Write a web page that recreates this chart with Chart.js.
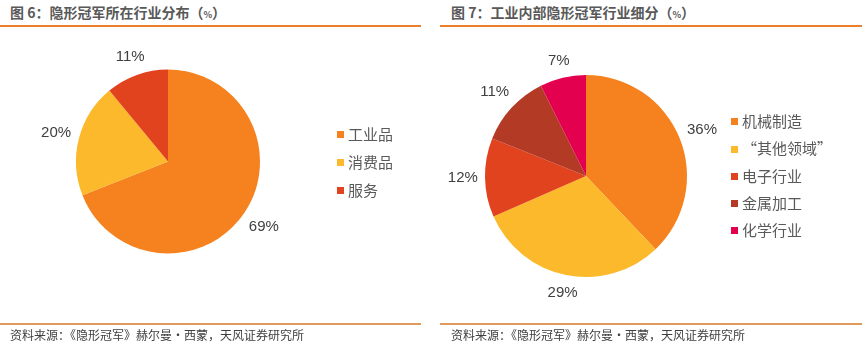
<!DOCTYPE html>
<html>
<head>
<meta charset="utf-8">
<script src="https://cdn.jsdelivr.net/npm/chart.js@4.4.1/dist/chart.umd.min.js"></script>
<style>
  html, body { margin: 0; padding: 0; background: #ffffff; }
  body { width: 865px; height: 344px; position: relative; overflow: hidden;
         font-family: "Noto Sans CJK SC", "Noto Sans", sans-serif; }
  .title { position: absolute; top: 2px; font-size: 14px; font-weight: bold; color: #595959;
           line-height: 20px; white-space: nowrap; }
  .title .pct { font-size: 9px; font-weight: bold; }
  .rule { position: absolute; height: 2px; }
  .rule.top { background: #EA7F2E; top: 25px; }
  .rule.bottom { background: #E09A5C; top: 323px; }
  .source { position: absolute; top: 326px; font-size: 12px; color: #404040; line-height: 18px; white-space: nowrap; }
  canvas { position: absolute; top: 0; }
  .legend { position: absolute; }
  .legend .item { position: absolute; left: 0; height: 20px; line-height: 20px; font-size: 15px; color: #595959;
                  white-space: nowrap; }
  .legend .swatch { display: inline-block; width: 7px; height: 7px; vertical-align: middle; margin-right: 4px;
                    position: relative; top: -1px; }
</style>
</head>
<body>
  <div class="title" style="left:10px">图 6：隐形冠军所在行业分布（<span class="pct">%</span>）</div>
  <div class="title" style="left:451px">图 7：工业内部隐形冠军行业细分（<span class="pct">%</span>）</div>
  <div class="rule top" style="left:0;width:421px"></div>
  <div class="rule top" style="left:440px;width:422px"></div>

  <canvas id="sectorPie" width="430" height="344" style="left:0"></canvas>
  <canvas id="industryPie" width="430" height="344" style="left:435px"></canvas>

  <div class="legend" id="sectorLegend" style="left:337px;top:124px"></div>
  <div class="legend" id="industryLegend" style="left:731px;top:111px"></div>

  <div class="rule bottom" style="left:0;width:421px"></div>
  <div class="rule bottom" style="left:440px;width:422px"></div>
  <div class="source" style="left:10px">资料来源：《隐形冠军》赫尔曼·西蒙，天风证券研究所</div>
  <div class="source" style="left:451px">资料来源：《隐形冠军》赫尔曼·西蒙，天风证券研究所</div>

<script>
// Sector split of hidden champions
const sectorLabels = ['工业品', '消费品', '服务'];
const sectorShares = [69, 20, 11];
const sectorColors = ['#F5821F', '#FBB92B', '#E2431F'];

// Breakdown within industrial goods
const industryLabels = ['机械制造', '“其他领域”', '电子行业', '金属加工', '化学行业'];
const industryShares = [36, 29, 12, 11, 7];
const industryColors = ['#F5821F', '#FBB92B', '#E2431F', '#B33B26', '#E3004F'];

// Writes each slice's percentage just outside its outer edge
const outsideLabels = {
  id: 'outsideLabels',
  afterDatasetsDraw(chart) {
    const ctx = chart.ctx;
    const meta = chart.getDatasetMeta(0);
    const values = chart.data.datasets[0].data;
    ctx.save();
    ctx.font = '15px "Liberation Sans", Arial, sans-serif';
    ctx.fillStyle = '#404040';
    ctx.textAlign = 'center';
    ctx.textBaseline = 'middle';
    const gap = 7, halfH = 8;
    meta.data.forEach((arc, i) => {
      const p = arc.getProps(['x', 'y', 'startAngle', 'endAngle', 'outerRadius'], true);
      const mid = (p.startAngle + p.endAngle) / 2;
      const cx = Math.cos(mid), cy = Math.sin(mid);
      const text = values[i] + '%';
      const halfW = ctx.measureText(text).width / 2;
      const dist = p.outerRadius + gap + Math.abs(cx) * halfW + Math.abs(cy) * halfH;
      ctx.fillText(text, p.x + cx * dist, p.y + cy * dist);
    });
    ctx.restore();
  }
};

function makePie(id, labels, values, colors, padding) {
  return new Chart(document.getElementById(id), {
    type: 'pie',
    data: {
      labels: labels,
      datasets: [{ data: values, backgroundColor: colors, borderWidth: 0 }]
    },
    options: {
      responsive: false,
      animation: false,
      layout: { padding: padding },
      plugins: { legend: { display: false }, tooltip: { enabled: false } }
    },
    plugins: [outsideLabels]
  });
}

function makeLegend(id, labels, colors, step) {
  const box = document.getElementById(id);
  labels.forEach((name, i) => {
    const item = document.createElement('div');
    item.className = 'item';
    item.style.top = (i * step) + 'px';
    const sw = document.createElement('span');
    sw.className = 'swatch';
    sw.style.background = colors[i];
    item.appendChild(sw);
    item.appendChild(document.createTextNode(name));
    box.appendChild(item);
  });
}

makePie('sectorPie', sectorLabels, sectorShares, sectorColors,
        { left: 76, top: 69.5, right: 170, bottom: 90.5 });
makePie('industryPie', industryLabels, industryShares, industryColors,
        { left: 50, top: 75, right: 178, bottom: 67 });

makeLegend('sectorLegend', sectorLabels, sectorColors, 28);
makeLegend('industryLegend', industryLabels, industryColors, 27.25);
</script>
</body>
</html>
